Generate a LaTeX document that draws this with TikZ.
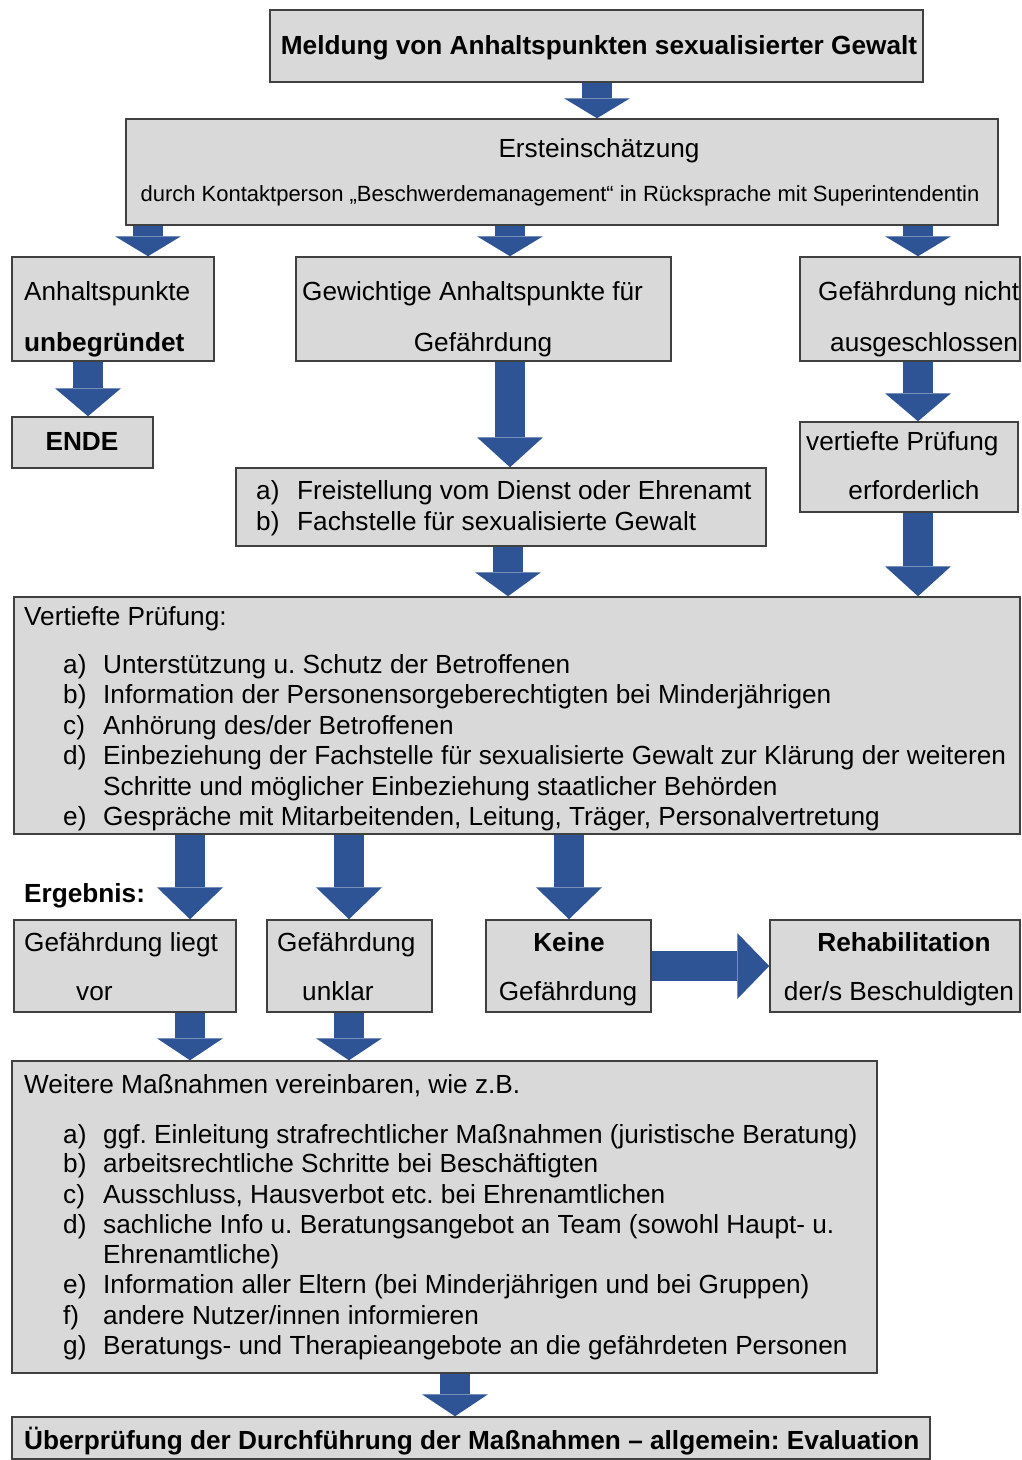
\documentclass[tikz,border=0pt]{standalone}
\usepackage{fontspec}
\setmainfont{Liberation Sans}
\usetikzlibrary{arrows.meta}
\definecolor{boxfill}{RGB}{217,217,217}
\definecolor{boxline}{RGB}{64,64,64}
\definecolor{arrowblue}{RGB}{46,84,150}
\frenchspacing
\begin{document}
\begin{tikzpicture}[x=1pt,y=-1pt,
  box/.style={rectangle, draw=boxline, fill=boxfill, line width=1.5pt, inner sep=0pt},
  txt/.style={inner sep=0pt, text=black, font=\fontsize{26.2}{30}\selectfont},
  txtb/.style={inner sep=0pt, text=black, font=\fontsize{26.2}{30}\selectfont\bfseries},
  txts/.style={inner sep=0pt, text=black, font=\fontsize{22}{26}\selectfont},
  fat/.style={line width=30pt, draw=arrowblue, -{Triangle[width=66pt,length=#1,line width=0pt]}},
  fat/.default=24pt]
\useasboundingbox (0,0) rectangle (1022,1460);
% boxes
\node[box, minimum width=653pt, minimum height=72pt] (top) at (596.5,46) {};
\node[box, minimum width=872pt, minimum height=106pt] (erst) at (562,172) {};
\node[box, minimum width=202pt, minimum height=104pt] (A) at (113,309) {};
\node[box, minimum width=375pt, minimum height=104pt] (B) at (483.5,309) {};
\node[box, minimum width=220pt, minimum height=104pt] (C) at (910,309) {};
\node[box, minimum width=141pt, minimum height=51pt] (ende) at (82.5,442.5) {};
\node[box, minimum width=530pt, minimum height=78pt] (list) at (501,507) {};
\node[box, minimum width=218pt, minimum height=90pt] (vert) at (909,467) {};
\node[box, minimum width=1006pt, minimum height=237pt] (big) at (517,715.5) {};
\node[box, minimum width=222pt, minimum height=92pt] (liegt) at (125,966) {};
\node[box, minimum width=165pt, minimum height=92pt] (unklar) at (349.5,966) {};
\node[box, minimum width=165pt, minimum height=92pt] (keine) at (568.5,966) {};
\node[box, minimum width=250pt, minimum height=92pt] (rehab) at (895,966) {};
\node[box, minimum width=865pt, minimum height=312pt] (weitere) at (444.5,1217) {};
\node[box, minimum width=918pt, minimum height=42pt] (final) at (471,1438) {};
% texts
\node[txtb, anchor=base] (t1) at (599,54) {Meldung von Anhaltspunkten sexualisierter Gewalt};
\node[txt, anchor=base] (t2) at (599,157) {Ersteinschätzung};
\node[txts, anchor=base] (t3) at (560,201) {durch Kontaktperson „Beschwerdemanagement“ in Rücksprache mit Superintendentin};
\node[txt, anchor=base west] (tA1) at (24,300) {Anhaltspunkte};
\node[txtb, anchor=base west] (tA2) at (24,351) {unbegründet};
\node[txt, anchor=base west] (tB1) at (302,300) {Gewichtige Anhaltspunkte für};
\node[txt, anchor=base] (tB2) at (483,351) {Gefährdung};
\node[txt, anchor=base west] (tC1) at (818,300) {Gefährdung nicht};
\node[txt, anchor=base west] (tC2) at (830,351) {ausgeschlossen};
\node[txtb, anchor=base] (tE) at (82,450) {ENDE};
\node[txt, anchor=base west] (tLa) at (256,499) {a)};
\node[txt, anchor=base west] (tLa2) at (297,499) {Freistellung vom Dienst oder Ehrenamt};
\node[txt, anchor=base west] (tLb) at (256,530) {b)};
\node[txt, anchor=base west] (tLb2) at (297,530) {Fachstelle für sexualisierte Gewalt};
\node[txt, anchor=base west] (tV1) at (806,450) {vertiefte Prüfung};
\node[txt, anchor=base] (tV2) at (914,499) {erforderlich};
\node[txt, anchor=base west] (tBig) at (24,625) {Vertiefte Prüfung:};
\node[txt, anchor=base west] (bA) at (63,673) {a)};
\node[txt, anchor=base west] (bA2) at (103,673) {Unterstützung u. Schutz der Betroffenen};
\node[txt, anchor=base west] (bB) at (63,703) {b)};
\node[txt, anchor=base west] (bB2) at (103,703) {Information der Personensorgeberechtigten bei Minderjährigen};
\node[txt, anchor=base west] (bC) at (63,734) {c)};
\node[txt, anchor=base west] (bC2) at (103,734) {Anhörung des/der Betroffenen};
\node[txt, anchor=base west] (bD) at (63,764) {d)};
\node[txt, anchor=base west] (bD2) at (103,764) {Einbeziehung der Fachstelle für sexualisierte Gewalt zur Klärung der weiteren};
\node[txt, anchor=base west] (bD3) at (103,795) {Schritte und möglicher Einbeziehung staatlicher Behörden};
\node[txt, anchor=base west] (bE) at (63,825) {e)};
\node[txt, anchor=base west] (bE2) at (103,825) {Gespräche mit Mitarbeitenden, Leitung, Träger, Personalvertretung};
\node[txtb, anchor=base west] (terg) at (24,902) {Ergebnis:};
\node[txt, anchor=base west] (tL1) at (24,951) {Gefährdung liegt};
\node[txt, anchor=base west] (tL2) at (76,1000) {vor};
\node[txt, anchor=base west] (tU1) at (277,951) {Gefährdung};
\node[txt, anchor=base west] (tU2) at (302,1000) {unklar};
\node[txtb, anchor=base] (tK1) at (569,951) {Keine};
\node[txt, anchor=base] (tK2) at (568,1000) {Gefährdung};
\node[txtb, anchor=base] (tR1) at (904,951) {Rehabilitation};
\node[txt, anchor=base] (tR2) at (899,1000) {der/s Beschuldigten};
\node[txt, anchor=base west] (tW) at (24,1093) {Weitere Maßnahmen vereinbaren, wie z.B.};
\node[txt, anchor=base west] (wA) at (63,1143) {a)};
\node[txt, anchor=base west] (wA2) at (103,1143) {ggf. Einleitung strafrechtlicher Maßnahmen (juristische Beratung)};
\node[txt, anchor=base west] (wB) at (63,1172) {b)};
\node[txt, anchor=base west] (wB2) at (103,1172) {arbeitsrechtliche Schritte bei Beschäftigten};
\node[txt, anchor=base west] (wC) at (63,1203) {c)};
\node[txt, anchor=base west] (wC2) at (103,1203) {Ausschluss, Hausverbot etc. bei Ehrenamtlichen};
\node[txt, anchor=base west] (wD) at (63,1233) {d)};
\node[txt, anchor=base west] (wD2) at (103,1233) {sachliche Info u. Beratungsangebot an Team (sowohl Haupt- u.};
\node[txt, anchor=base west] (wD3) at (103,1263) {Ehrenamtliche)};
\node[txt, anchor=base west] (wE) at (63,1293) {e)};
\node[txt, anchor=base west] (wE2) at (103,1293) {Information aller Eltern (bei Minderjährigen und bei Gruppen)};
\node[txt, anchor=base west] (wF) at (63,1324) {f)};
\node[txt, anchor=base west] (wF2) at (103,1324) {andere Nutzer/innen informieren};
\node[txt, anchor=base west] (wG) at (63,1354) {g)};
\node[txt, anchor=base west] (wG2) at (103,1354) {Beratungs- und Therapieangebote an die gefährdeten Personen};
\node[txtb, anchor=base west] (tF) at (24,1449) {Überprüfung der Durchführung der Maßnahmen – allgemein: Evaluation};
% arrow columns
\coordinate (x88) at (88,0);
\coordinate (x148) at (148,0);
\coordinate (x190) at (190,0);
\coordinate (x349) at (349,0);
\coordinate (x455) at (455,0);
\coordinate (x508) at (508,0);
\coordinate (x510) at (510,0);
\coordinate (x569) at (569,0);
\coordinate (x597) at (597,0);
\coordinate (x918) at (918,0);
% arrows
\draw[fat=20pt] (top.south -| x597) -- (erst.north -| x597);
\draw[fat=20pt] (erst.south -| x148) -- (A.north -| x148);
\draw[fat=20pt] (erst.south -| x510) -- (B.north -| x510);
\draw[fat=20pt] (erst.south -| x918) -- (C.north -| x918);
\draw[fat=28pt] (A.south -| x88) -- (ende.north -| x88);
\draw[fat=30pt] (B.south -| x510) -- (list.north -| x510);
\draw[fat=28pt] (C.south -| x918) -- (vert.north -| x918);
\draw[fat=24pt] (list.south -| x508) -- (big.north -| x508);
\draw[fat=30pt] (vert.south -| x918) -- (big.north -| x918);
\draw[fat=32pt] (big.south -| x190) -- (liegt.north -| x190);
\draw[fat=32pt] (big.south -| x349) -- (unklar.north -| x349);
\draw[fat=32pt] (big.south -| x569) -- (keine.north -| x569);
\draw[fat=32pt] (keine.east) -- (rehab.west);
\draw[fat=22pt] (liegt.south -| x190) -- (weitere.north -| x190);
\draw[fat=22pt] (unklar.south -| x349) -- (weitere.north -| x349);
\draw[fat=22pt] (weitere.south -| x455) -- (final.north -| x455);
\end{tikzpicture}
\end{document}
